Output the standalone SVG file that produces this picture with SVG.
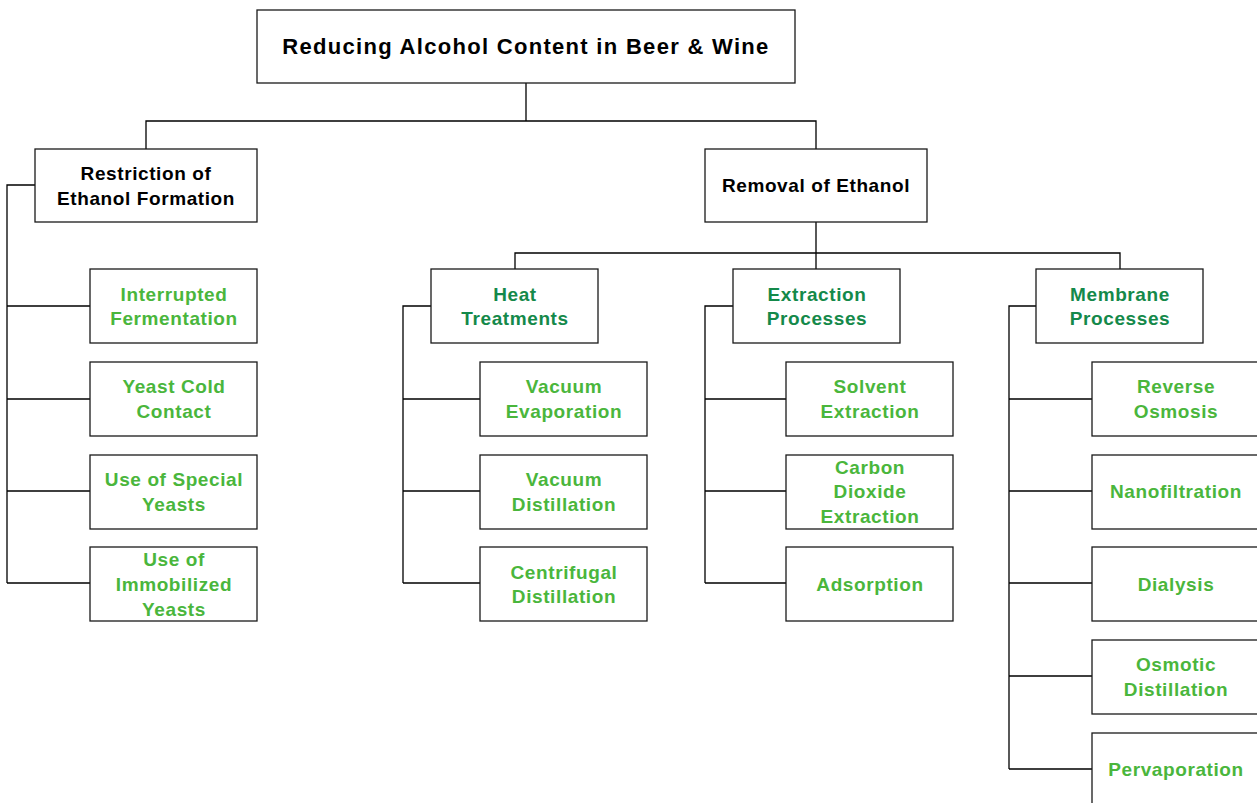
<svg xmlns="http://www.w3.org/2000/svg" width="1257" height="803" viewBox="0 0 1257 803">
<style>
rect.box{fill:#fff;stroke:#1a1a1a;stroke-width:1.3}
text{font-family:"Liberation Sans",Arial,sans-serif;font-weight:bold;text-anchor:middle;letter-spacing:0.6px}
.root{font-size:22px;fill:#000;letter-spacing:1.3px}
.l1{font-size:19px;fill:#000}
.cat{font-size:19px;fill:#14894a}
.leaf{font-size:19px;fill:#4ab63c}
#connectors path{fill:none;stroke:#000;stroke-width:1.3}
</style>
<rect width="1257" height="803" fill="#fff"/>
<g id="connectors">
<path d="M526 83V121M146 149V121H816V149"/>
<path d="M35 185H7V583M7 306H90M7 399H90M7 491H90M7 583H90"/>
<path d="M816 222V253M515 269V253H1120V269M816 253V269"/>
<path d="M431 306H403V583M403 399H480M403 491H480M403 583H480"/>
<path d="M733 306H705V583M705 399H786M705 491H786M705 583H786"/>
<path d="M1036 306H1009V769M1009 399H1092M1009 491H1092M1009 583H1092M1009 676H1092M1009 769H1092"/>
</g>
<g id="root"><rect class="box" x="257" y="10" width="538" height="73"/><text class="root" x="526" y="54">Reducing Alcohol Content in Beer &amp; Wine</text></g>
<g id="restriction"><rect class="box" x="35" y="149" width="222" height="73"/><text class="l1" x="146" y="180">Restriction of</text><text class="l1" x="146" y="205">Ethanol Formation</text></g>
<g id="removal"><rect class="box" x="705" y="149" width="222" height="73"/><text class="l1" x="816" y="192">Removal of Ethanol</text></g>
<g id="interrupted"><rect class="box" x="90" y="269" width="167" height="74"/><text class="leaf" x="174" y="301">Interrupted</text><text class="leaf" x="174" y="325">Fermentation</text></g>
<g id="yeastcold"><rect class="box" x="90" y="362" width="167" height="74"/><text class="leaf" x="174" y="393">Yeast Cold</text><text class="leaf" x="174" y="418">Contact</text></g>
<g id="special"><rect class="box" x="90" y="455" width="167" height="74"/><text class="leaf" x="174" y="486">Use of Special</text><text class="leaf" x="174" y="511">Yeasts</text></g>
<g id="immobilized"><rect class="box" x="90" y="547" width="167" height="74"/><text class="leaf" x="174" y="566">Use of</text><text class="leaf" x="174" y="591">Immobilized</text><text class="leaf" x="174" y="616">Yeasts</text></g>
<g id="heat"><rect class="box" x="431" y="269" width="167" height="74"/><text class="cat" x="515" y="301">Heat</text><text class="cat" x="515" y="325">Treatments</text></g>
<g id="extraction"><rect class="box" x="733" y="269" width="167" height="74"/><text class="cat" x="817" y="301">Extraction</text><text class="cat" x="817" y="325">Processes</text></g>
<g id="membrane"><rect class="box" x="1036" y="269" width="167" height="74"/><text class="cat" x="1120" y="301">Membrane</text><text class="cat" x="1120" y="325">Processes</text></g>
<g id="vacevap"><rect class="box" x="480" y="362" width="167" height="74"/><text class="leaf" x="564" y="393">Vacuum</text><text class="leaf" x="564" y="418">Evaporation</text></g>
<g id="vacdist"><rect class="box" x="480" y="455" width="167" height="74"/><text class="leaf" x="564" y="486">Vacuum</text><text class="leaf" x="564" y="511">Distillation</text></g>
<g id="centri"><rect class="box" x="480" y="547" width="167" height="74"/><text class="leaf" x="564" y="579">Centrifugal</text><text class="leaf" x="564" y="603">Distillation</text></g>
<g id="solvent"><rect class="box" x="786" y="362" width="167" height="74"/><text class="leaf" x="870" y="393">Solvent</text><text class="leaf" x="870" y="418">Extraction</text></g>
<g id="co2"><rect class="box" x="786" y="455" width="167" height="74"/><text class="leaf" x="870" y="474">Carbon</text><text class="leaf" x="870" y="498">Dioxide</text><text class="leaf" x="870" y="523">Extraction</text></g>
<g id="adsorption"><rect class="box" x="786" y="547" width="167" height="74"/><text class="leaf" x="870" y="591">Adsorption</text></g>
<g id="ro"><rect class="box" x="1092" y="362" width="170" height="74"/><text class="leaf" x="1176" y="393">Reverse</text><text class="leaf" x="1176" y="418">Osmosis</text></g>
<g id="nano"><rect class="box" x="1092" y="455" width="170" height="74"/><text class="leaf" x="1176" y="498">Nanofiltration</text></g>
<g id="dialysis"><rect class="box" x="1092" y="547" width="170" height="74"/><text class="leaf" x="1176" y="591">Dialysis</text></g>
<g id="osmotic"><rect class="box" x="1092" y="640" width="170" height="74"/><text class="leaf" x="1176" y="671">Osmotic</text><text class="leaf" x="1176" y="696">Distillation</text></g>
<g id="perva"><rect class="box" x="1092" y="733" width="170" height="74"/><text class="leaf" x="1176" y="776">Pervaporation</text></g>
</svg>
